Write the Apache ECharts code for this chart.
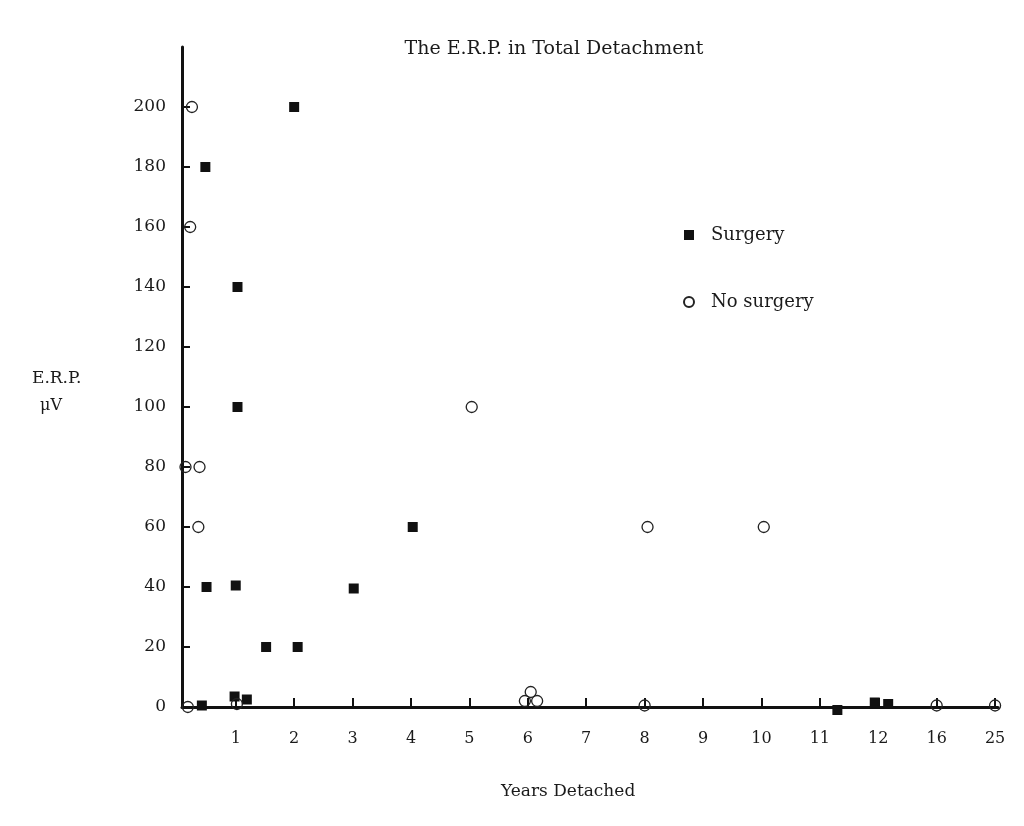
<!DOCTYPE html>
<html>
<head>
<meta charset="utf-8">
<title>The E.R.P. in Total Detachment</title>
<script src="https://cdn.jsdelivr.net/npm/echarts@6/dist/echarts.min.js"></script>
<style>
	html, body { margin: 0; padding: 0; background: #fff; }
	#chart { width: 1024px; height: 826px; }
</style>
</head>
<body>
<div id="chart"></div>
<script>
// x axis is not linear: ticks are evenly spaced but labelled 1..12, 16, 25
var yearTicks = [1, 2, 3, 4, 5, 6, 7, 8, 9, 10, 11, 12, 16, 25];
var erpTicks = [0, 20, 40, 60, 80, 100, 120, 140, 160, 180, 200];

// Surgery (filled squares)
var surgeryYears = [2, 0.48, 1.03, 1.03, 4.03, 0.5, 1.0, 3.02, 1.52, 2.06, 0.98, 1.19, 0.42, 11.3, 11.94, 12.68];
var surgeryErp = [200, 180, 140, 100, 60, 40, 40.5, 39.5, 20, 20, 3.5, 2.5, 0.5, -1, 1.5, 1];

// No surgery (open circles)
var noSurgeryYears = [0.25, 0.22, 0.14, 0.38, 0.36, 5.04, 8.05, 10.04, 0.18, 1.02, 5.95, 6.05, 6.16, 8.0, 16, 25];
var noSurgeryErp = [200, 160, 80, 80, 60, 100, 60, 60, 0, 1, 2, 5, 2, 0.5, 0.5, 0.5];

var serif = 'DejaVu Serif';

// 年份 -> 轴上的位置 (12 以后按 16, 25 分段)
function yearToPos(y) {
	if (y <= 12) return y;
	if (y <= 16) return 12 + (y - 12) / 4;
	return 13 + (y - 16) / 9;
}

function toPoints(xs, ys) {
	var out = [];
	for (var i = 0; i < xs.length; i++) {
		out.push([yearToPos(xs[i]), ys[i]]);
	}
	return out;
}

var tickPos = [];
for (var i = 0; i < yearTicks.length; i++) {
	tickPos.push(yearToPos(yearTicks[i]));
}

var myChart = echarts.init(document.getElementById('chart'));
var option = {
	backgroundColor: '#fff',
	animation: false,
	title: {
		text: 'The E.R.P. in Total Detachment',
		left: 549,
		top: 35,
		textAlign: 'center',
		textStyle: { fontFamily: serif, fontSize: 19, fontWeight: 'normal', color: '#1a1a1a' }
	},
	legend: {
		orient: 'vertical',
		left: 678,
		top: 221,
		itemGap: 49,
		itemWidth: 10,
		itemHeight: 10,
		textStyle: { fontFamily: serif, fontSize: 18, color: '#1a1a1a', padding: [0, 0, 0, 12] },
		data: ['Surgery', 'No surgery']
	},
	grid: {
		left: 182,
		right: 26,
		top: 47,
		bottom: 119
	},
	xAxis: {
		type: 'value',
		min: 0.08,
		max: 14.05,
		axisLine: { lineStyle: { color: '#111', width: 3 } },
		axisTick: { inside: true, length: 9, lineStyle: { color: '#111', width: 2 }, customValues: tickPos },
		axisLabel: {
			customValues: tickPos,
			margin: 24,
			fontFamily: serif,
			fontSize: 16,
			color: '#1a1a1a',
			formatter: function(v) {
				for (var i = 0; i < tickPos.length; i++) {
					if (Math.abs(tickPos[i] - v) < 1e-6) return yearTicks[i] + '';
				}
				return '';
			}
		},
		splitLine: { show: false }
	},
	yAxis: {
		type: 'value',
		min: 0,
		max: 220,
		axisLine: { show: true, lineStyle: { color: '#111', width: 3 } },
		axisTick: { show: true, inside: true, length: 8, lineStyle: { color: '#111', width: 2 }, customValues: erpTicks },
		axisLabel: { customValues: erpTicks, margin: 16, fontFamily: serif, fontSize: 17, color: '#1a1a1a' },
		splitLine: { show: false }
	},
	graphic: [{
		type: 'text',
		left: 32,
		top: 370,
		style: { text: 'E.R.P.', fontFamily: serif, fontSize: 17, fill: '#1a1a1a' }
	}, {
		type: 'text',
		left: 40,
		top: 398,
		style: { text: 'μV', fontFamily: serif, fontSize: 16, fill: '#1a1a1a' }
	}, {
		type: 'text',
		left: 501,
		top: 783,
		style: { text: 'Years Detached', fontFamily: serif, fontSize: 17, fill: '#1a1a1a' }
	}],
	series: [{
		name: 'Surgery',
		type: 'scatter',
		symbol: 'rect',
		symbolSize: 10,
		clip: false,
		itemStyle: { color: '#111', opacity: 1 },
		data: toPoints(surgeryYears, surgeryErp)
	}, {
		name: 'No surgery',
		type: 'scatter',
		symbol: 'circle',
		symbolSize: 11,
		clip: false,
		itemStyle: { color: 'rgba(255,255,255,0)', borderColor: '#222', borderWidth: 1.3, opacity: 1 },
		data: toPoints(noSurgeryYears, noSurgeryErp)
	}]
};
myChart.setOption(option);
</script>
</body>
</html>
